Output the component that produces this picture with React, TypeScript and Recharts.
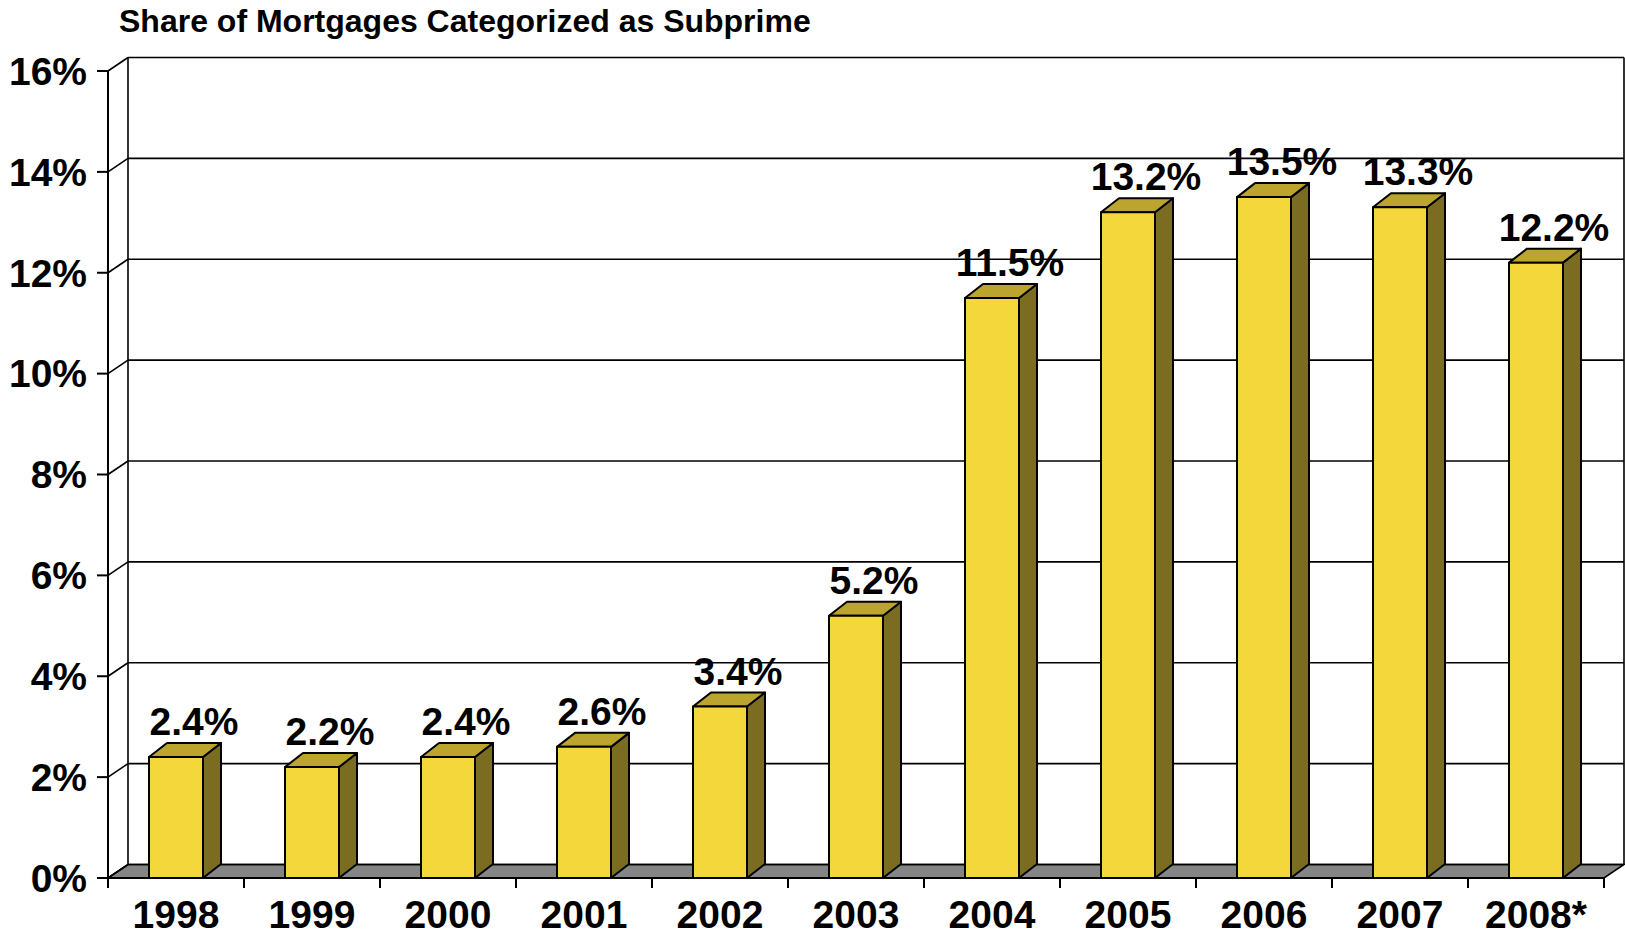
import { BarChart, Bar, XAxis, YAxis, CartesianGrid, LabelList } from 'recharts';

const categories = ['1998', '1999', '2000', '2001', '2002', '2003', '2004', '2005', '2006', '2007', '2008*'];
const shares = [2.4, 2.2, 2.4, 2.6, 3.4, 5.2, 11.5, 13.2, 13.5, 13.3, 12.2];
const yTicks = [0, 2, 4, 6, 8, 10, 12, 14, 16];

const data = categories.map((year, i) => ({ year, share: shares[i] }));

const W = 1625;
const H = 936;
const MARGIN = { top: 71, right: 21, left: 0, bottom: 0 };
const X_AXIS_H = 58;
const Y_AXIS_W = 108;
const PLOT_W = W - MARGIN.left - MARGIN.right - Y_AXIS_W;
const HALF_BAND = PLOT_W / categories.length / 2;

// depth offsets for the fake 3d look
const WALL_DX = 20;
const WALL_DY = -13.5;
const BAR_DX = 18;
const BAR_DY = -14;

const FONT = '"Liberation Sans", Arial, Helvetica, sans-serif';
const FONT_SIZE = 39;
const FRONT = '#F4D83B';
const TOP = '#BBA52F';
const SIDE = '#7B6C22';
const FLOOR = '#858585';

function Bar3D(props: any) {
  const { x, y, width, height } = props;
  if (!height || height <= 0) return null;
  const top = `${x},${y} ${x + BAR_DX},${y + BAR_DY} ${x + width + BAR_DX},${y + BAR_DY} ${x + width},${y}`;
  const side = `${x + width},${y} ${x + width + BAR_DX},${y + BAR_DY} ${x + width + BAR_DX},${y + height + BAR_DY} ${x + width},${y + height}`;
  return (
    <g stroke="#000" strokeWidth={2} strokeLinejoin="round">
      <polygon points={side} fill={SIDE} />
      <polygon points={top} fill={TOP} />
      <rect x={x} y={y} width={width} height={height} fill={FRONT} />
    </g>
  );
}

function ValueLabel(props: any) {
  const { x, y, width, value } = props;
  return (
    <text
      x={x + width / 2 + BAR_DX}
      y={y + BAR_DY - 8}
      textAnchor="middle"
      fontFamily={FONT}
      fontWeight="bold"
      fontSize={FONT_SIZE}
      fill="#000"
    >
      {Number(value).toFixed(1)}%
    </text>
  );
}

function GridLine(props: any) {
  const { x1, y1, x2, y, height, index } = props;
  const bottom = y + height;
  const isBottom = Math.abs(y1 - bottom) < 1;
  const isTop = Math.abs(y1 - y) < 1;
  return (
    <g key={`gl-${index}`} stroke="#000" strokeWidth={1.6} fill="none">
      {isBottom && (
        <polygon
          points={`${x1},${y1} ${x1 + WALL_DX},${y1 + WALL_DY} ${x2 + WALL_DX},${y1 + WALL_DY} ${x2},${y1}`}
          fill={FLOOR}
        />
      )}
      {isTop && (
        <>
          <line x1={x1 + WALL_DX} y1={y1 + WALL_DY} x2={x1 + WALL_DX} y2={bottom + WALL_DY} />
          <line x1={x2 + WALL_DX} y1={y1 + WALL_DY} x2={x2 + WALL_DX} y2={bottom + WALL_DY} />
        </>
      )}
      <line x1={x1} y1={y1} x2={x1 + WALL_DX} y2={y1 + WALL_DY} />
      <line x1={x1 + WALL_DX} y1={y1 + WALL_DY} x2={x2 + WALL_DX} y2={y1 + WALL_DY} />
    </g>
  );
}

function YearTick(props: any) {
  const { x, y, payload, index } = props;
  const last = index === categories.length - 1;
  return (
    <g>
      <line x1={x - HALF_BAND} y1={y} x2={x - HALF_BAND} y2={y + 10} stroke="#000" strokeWidth={2} />
      {last && <line x1={x + HALF_BAND} y1={y} x2={x + HALF_BAND} y2={y + 10} stroke="#000" strokeWidth={2} />}
      <text x={x} y={y + 50} textAnchor="middle" fontFamily={FONT} fontWeight="bold" fontSize={FONT_SIZE} fill="#000">
        {payload.value}
      </text>
    </g>
  );
}

export default function App() {
  return (
    <div style={{ position: 'absolute', left: 0, top: 0, width: W, height: H, background: '#fff' }}>
      <div
        style={{
          position: 'absolute',
          left: 119,
          top: 4,
          fontFamily: FONT,
          fontWeight: 'bold',
          fontSize: 32,
          lineHeight: '34px',
          color: '#000',
          whiteSpace: 'nowrap',
        }}
      >
        Share of Mortgages Categorized as Subprime
      </div>
      <BarChart width={W} height={H} data={data} margin={MARGIN} barSize={54}>
        <CartesianGrid vertical={false} horizontal={GridLine as any} />
        <XAxis
          dataKey="year"
          tick={<YearTick />}
          tickLine={false}
          tickSize={0}
          tickMargin={0}
          axisLine={{ stroke: '#000', strokeWidth: 2 }}
          interval={0}
          height={X_AXIS_H}
        />
        <YAxis
          domain={[0, 16]}
          ticks={yTicks}
          width={Y_AXIS_W}
          tickFormatter={(v: number) => `${v}%`}
          tickSize={11}
          tickMargin={10}
          tickLine={{ stroke: '#000', strokeWidth: 2 }}
          axisLine={{ stroke: '#000', strokeWidth: 2 }}
          tick={{ fill: '#000', fontFamily: FONT, fontWeight: 'bold', fontSize: FONT_SIZE }}
          interval={0}
        />
        <Bar dataKey="share" shape={<Bar3D />} isAnimationActive={false}>
          <LabelList dataKey="share" content={<ValueLabel />} />
        </Bar>
      </BarChart>
    </div>
  );
}
